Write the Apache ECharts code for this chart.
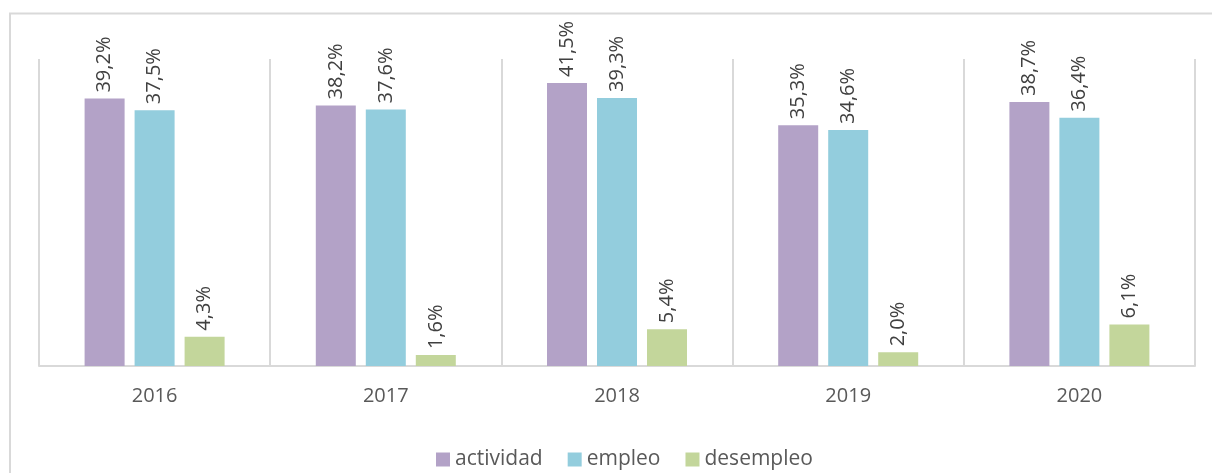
<!DOCTYPE html>
<html>
<head>
<meta charset="utf-8">
<script src="https://cdn.jsdelivr.net/npm/echarts@6/dist/echarts.min.js"></script>
<style>
  html, body { margin: 0; padding: 0; background: #fff; }
  #chart { width: 1212px; height: 473px; }
</style>
</head>
<body>
<div id="chart"></div>
<script>
// datos por año
var years = ['2016', '2017', '2018', '2019', '2020'];
var actividad = [39.2, 38.2, 41.5, 35.3, 38.7];
var empleo = [37.5, 37.6, 39.3, 34.6, 36.4];
var desempleo = [4.3, 1.6, 5.4, 2.0, 6.1];

var FONT = '"Open Sans", sans-serif';

function etiqueta(p) {
  return p.value.toFixed(1).replace('.', ',') + '%';
}

function serie(nombre, datos, color) {
  return {
    name: nombre,
    type: 'bar',
    data: datos,
    barWidth: 40,
    barGap: '25%',
    itemStyle: { color: color },
    label: {
      show: true,
      position: 'top',
      rotate: 90,
      align: 'left',
      verticalAlign: 'middle',
      distance: 6,
      color: '#404040',
      fontFamily: FONT,
      fontSize: 20,
      formatter: etiqueta
    }
  };
}

var chart = echarts.init(document.getElementById('chart'));
chart.setOption({
  animation: false,
  textStyle: { fontFamily: FONT },
  graphic: [{
    type: 'rect',
    shape: { x: 10, y: 13.5, width: 1400, height: 700 },
    style: { fill: 'none', stroke: '#d9d9d9', lineWidth: 2 },
    silent: true
  }],
  grid: { left: 39, right: 17, top: 59, bottom: 107 },
  legend: {
    top: 444,
    left: 431,
    icon: 'rect',
    itemWidth: 14,
    itemHeight: 14,
    itemGap: 25,
    textStyle: { color: '#595959', fontSize: 21, fontFamily: FONT },
    data: ['actividad', 'empleo', 'desempleo']
  },
  xAxis: {
    type: 'category',
    data: years,
    axisLine: { lineStyle: { color: '#d9d9d9', width: 2 } },
    axisTick: { show: false },
    splitLine: { show: true, lineStyle: { color: '#d9d9d9', width: 2 } },
    axisLabel: { color: '#595959', fontSize: 20, margin: 20, fontFamily: FONT }
  },
  yAxis: {
    type: 'value',
    min: 0,
    max: 45,
    show: false,
    splitLine: { show: false }
  },
  series: [
    serie('actividad', actividad, '#b3a2c7'),
    serie('empleo', empleo, '#93cddd'),
    serie('desempleo', desempleo, '#c3d69b')
  ]
});
</script>
</body>
</html>
